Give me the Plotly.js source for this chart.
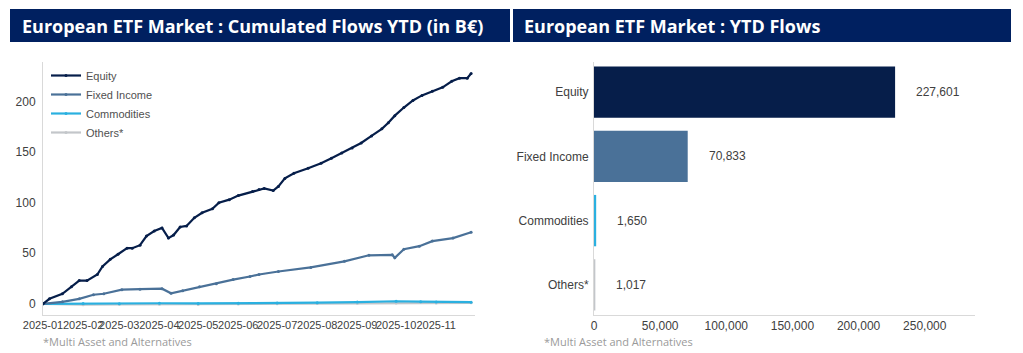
<!DOCTYPE html>
<html>
<head>
<meta charset="utf-8">
<script src="https://cdn.plot.ly/plotly-3.0.1.min.js"></script>
<style>
  html, body { margin: 0; padding: 0; background: #fff; }
  #chart { width: 1023px; height: 353px; }
</style>
</head>
<body>
<div id="chart"></div>
<script>
// ---- Left chart: cumulated flows YTD (B€) ----
const equityDates = ['2025-01-01','2025-01-06','2025-01-16','2025-01-23','2025-01-29','2025-02-04','2025-02-12','2025-02-16','2025-02-22','2025-02-28','2025-03-07','2025-03-11','2025-03-17','2025-03-22','2025-03-28','2025-04-03','2025-04-08','2025-04-12','2025-04-17','2025-04-22','2025-04-28','2025-05-04','2025-05-12','2025-05-17','2025-05-25','2025-06-01','2025-06-12','2025-06-17','2025-06-21','2025-06-28','2025-07-02','2025-07-07','2025-07-14','2025-07-25','2025-08-04','2025-08-12','2025-08-20','2025-08-28','2025-09-04','2025-09-12','2025-09-20','2025-09-25','2025-09-30','2025-10-07','2025-10-14','2025-10-21','2025-10-29','2025-11-06','2025-11-13','2025-11-19','2025-11-25','2025-11-28'];
const equityValues = [0,5,10,17,23,23,29,37,44,49,55,55,58,67,72,75,65,68,76,77,85,90,94,100,103,107,111,113,114,112,116,124,129,134,139,144,149,154,159,166,173,179,186,194,201,206,210,214,220,223,223,227.6];

const fixedDates = ['2025-01-01','2025-01-16','2025-01-29','2025-02-09','2025-02-17','2025-03-03','2025-03-17','2025-04-03','2025-04-10','2025-04-19','2025-05-02','2025-05-15','2025-05-28','2025-06-10','2025-06-17','2025-07-02','2025-07-27','2025-08-22','2025-09-10','2025-09-28','2025-09-30','2025-10-07','2025-10-19','2025-10-29','2025-11-14','2025-11-28'];
const fixedValues = [0,2,5,9,10,14,14.5,15,10.5,13,17,20,24,27,29,32,36,42,48,48.5,45.5,54,57,62,65,70.8];

const commoDates = ['2025-01-01','2025-02-01','2025-03-01','2025-04-01','2025-05-01','2025-06-01','2025-07-01','2025-08-01','2025-09-01','2025-10-01','2025-10-20','2025-11-01','2025-11-28'];
const commoValues = [0,0.3,0.2,0.6,0.4,0.5,0.8,1.2,1.8,2.6,2.2,1.9,1.65];

const othersDates = ['2025-01-01','2025-02-01','2025-03-01','2025-04-01','2025-05-01','2025-06-01','2025-07-01','2025-08-01','2025-09-01','2025-10-01','2025-11-01','2025-11-28'];
const othersValues = [0,-0.8,-0.5,-0.3,-0.6,-0.2,0.2,0.4,0.6,0.8,0.9,1.0];

const monthTicks = ['2025-01-01','2025-02-01','2025-03-01','2025-04-01','2025-05-01','2025-06-01','2025-07-01','2025-08-01','2025-09-01','2025-10-01','2025-11-01'];
const monthTickLabels = ['2025-01','2025-02','2025-03','2025-04','2025-05','2025-06','2025-07','2025-08','2025-09','2025-10','2025-11'];

// ---- Right chart: YTD flows (M€) ----
const barCategories = ['Equity','Fixed Income','Commodities','Others*'];
const barValues = [227601, 70833, 1650, 1017];
const barLabels = ['227,601','70,833','1,650','1,017'];
const barTickVals = [0, 50000, 100000, 150000, 200000, 250000];
const barTickText = ['0', '50,000', '100,000', '150,000', '200,000', '250,000'];

const leftTitle = 'European ETF Market : Cumulated Flows YTD (in B€)';
const rightTitle = 'European ETF Market : YTD Flows';
const footnote = '*Multi Asset and Alternatives';

const colEquity = '#061e4a';
const colFixed = '#4a7198';
const colCommo = '#2ab0e0';
const colOthers = '#c3c6ca';
const navy = '#002060';
const axisFont = {family: 'Liberation Sans, Arial, sans-serif', size: 12, color: '#404040'};
const dateTickFont = {family: 'Liberation Sans, Arial, sans-serif', size: 11, color: '#404040'};

function lineTrace(name, x, y, color) {
  return {
    type: 'scatter', mode: 'lines+markers', name: name, x: x, y: y,
    xaxis: 'x', yaxis: 'y',
    line: {color: color, width: 2.2},
    marker: {color: color, size: 3},
    hoverinfo: 'skip'
  };
}

const traces = [
  lineTrace('Others*', othersDates, othersValues, colOthers),
  lineTrace('Commodities', commoDates, commoValues, colCommo),
  lineTrace('Fixed Income', fixedDates, fixedValues, colFixed),
  lineTrace('Equity', equityDates, equityValues, colEquity),
  {
    type: 'bar', orientation: 'h', x: barValues, y: barCategories,
    xaxis: 'x2', yaxis: 'y2', width: 0.8,
    marker: {color: [colEquity, colFixed, colCommo, colOthers]},
    showlegend: false, hoverinfo: 'skip'
  }
];

const W = 1023, H = 353;
const px = v => v / W;
const py = v => (H - v) / H;

const annotations = barCategories.map((c, i) => ({
  x: barValues[i], y: c, xref: 'x2', yref: 'y2',
  text: barLabels[i], showarrow: false, xanchor: 'left', xshift: 19,
  font: axisFont
}));
annotations.push(
  {xref: 'paper', yref: 'paper', x: px(20), y: py(25.5), xanchor: 'left', yanchor: 'middle',
   text: '<b>' + leftTitle + '</b>', showarrow: false,
   font: {family: 'Open Sans, sans-serif', size: 18, color: '#ffffff'}},
  {xref: 'paper', yref: 'paper', x: px(522), y: py(25.5), xanchor: 'left', yanchor: 'middle',
   text: '<b>' + rightTitle + '</b>', showarrow: false,
   font: {family: 'Open Sans, sans-serif', size: 18, color: '#ffffff'}},
  {xref: 'paper', yref: 'paper', x: px(41), y: py(341), xanchor: 'left', yanchor: 'middle',
   text: footnote, showarrow: false,
   font: {family: 'Open Sans, sans-serif', size: 11, color: '#9a9a9a'}},
  {xref: 'paper', yref: 'paper', x: px(542), y: py(341), xanchor: 'left', yanchor: 'middle',
   text: footnote, showarrow: false,
   font: {family: 'Open Sans, sans-serif', size: 11, color: '#9a9a9a'}}
);

const layout = {
  width: W, height: H,
  margin: {l: 0, r: 0, t: 0, b: 0},
  paper_bgcolor: '#ffffff', plot_bgcolor: '#ffffff',
  showlegend: true,
  legend: {
    x: px(46), y: py(61), xanchor: 'left', yanchor: 'top',
    traceorder: 'reversed',
    font: {family: 'Liberation Sans, Arial, sans-serif', size: 11, color: '#505050'},
    bgcolor: 'rgba(0,0,0,0)', itemwidth: 30, tracegroupgap: 0
  },
  xaxis: {
    domain: [px(43), px(475)], type: 'date',
    range: ['2025-01-01', '2025-12-01'],
    tickvals: monthTicks, ticktext: monthTickLabels, tickangle: 0,
    showgrid: false, zeroline: false, showline: true, linecolor: '#d9d9d9', linewidth: 1,
    ticks: '', tickfont: dateTickFont, anchor: 'y'
  },
  yaxis: {
    domain: [py(315), py(62)], range: [-11, 239],
    dtick: 50, showgrid: false, zeroline: false,
    showline: true, linecolor: '#d9d9d9', linewidth: 1,
    ticks: '', tickfont: axisFont, anchor: 'x', ticklabelstandoff: 4
  },
  xaxis2: {
    domain: [px(594), px(975)], range: [0, 288000],
    tickvals: barTickVals, ticktext: barTickText, tickangle: 0,
    showgrid: false, zeroline: false, showline: true, linecolor: '#d9d9d9', linewidth: 1,
    ticks: '', tickfont: axisFont, anchor: 'y2'
  },
  yaxis2: {
    domain: [py(315), py(62)], range: [3.47, -0.47], type: 'category',
    showgrid: false, zeroline: false, showline: true, linecolor: '#d9d9d9', linewidth: 1,
    ticks: '', tickfont: axisFont, anchor: 'x2', ticklabelstandoff: 2
  },
  shapes: [
    {type: 'rect', xref: 'paper', yref: 'paper', x0: px(10), x1: px(510), y0: py(42), y1: py(9),
     fillcolor: navy, line: {width: 0}, layer: 'below'},
    {type: 'rect', xref: 'paper', yref: 'paper', x0: px(513), x1: px(1011), y0: py(42), y1: py(9),
     fillcolor: navy, line: {width: 0}, layer: 'below'}
  ],
  annotations: annotations
};

Plotly.newPlot('chart', traces, layout, {displayModeBar: false, staticPlot: true});
</script>
</body>
</html>
